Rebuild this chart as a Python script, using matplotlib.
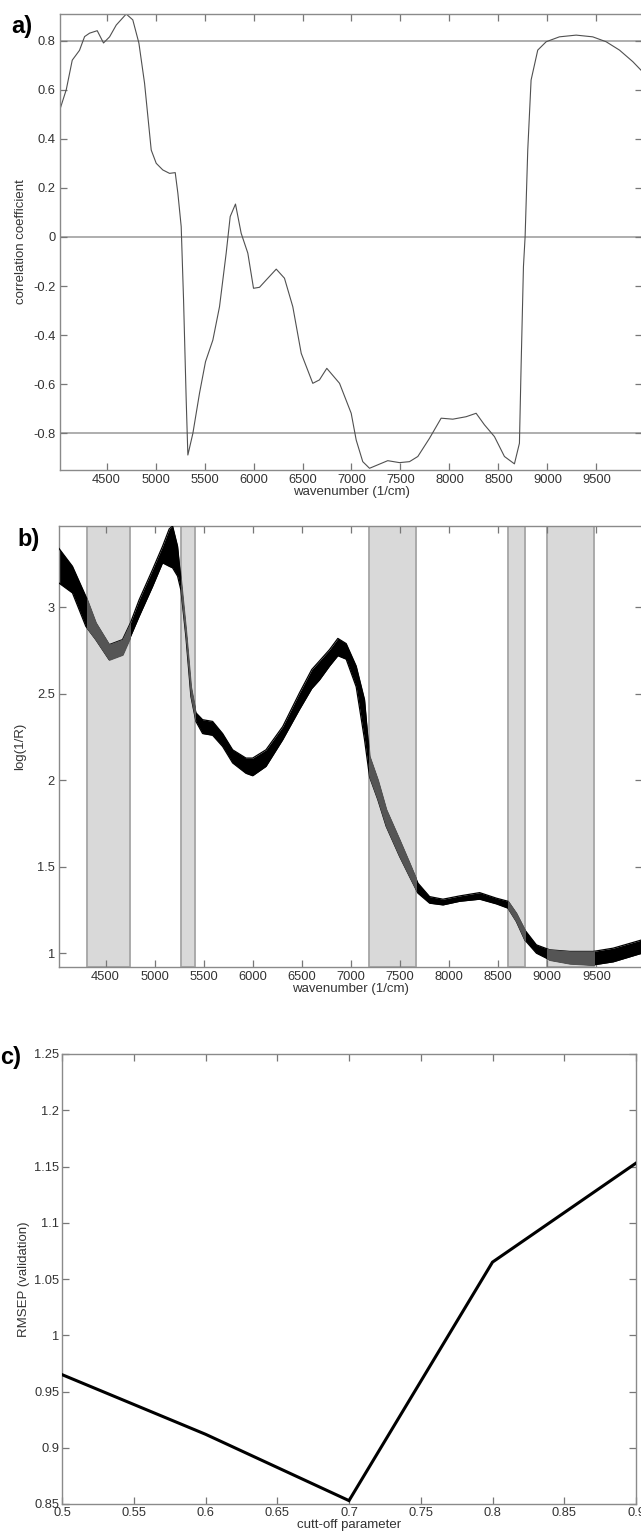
import numpy as np
import matplotlib.pyplot as plt
from matplotlib.patches import Rectangle

plt.rcParams['font.family'] = ['Liberation Sans', 'DejaVu Sans']

# a) correlation coefficient vs wavenumber
corr_wn = [4025, 4089, 4150, 4224, 4276, 4327, 4405, 4469, 4531, 4599, 4701, 4768,
           4830, 4888, 4956, 5007, 5074, 5143, 5201, 5228, 5262, 5286, 5313, 5330,
           5381, 5449, 5510, 5585, 5653, 5721, 5762, 5816, 5874, 5942, 6000, 6061,
           6130, 6232, 6316, 6401, 6487, 6605, 6673, 6748, 6878, 6997, 7048, 7115,
           7184, 7268, 7370, 7490, 7592, 7677, 7796, 7915, 8034, 8170, 8272, 8357,
           8459, 8561, 8663, 8714, 8731, 8755, 8772, 8799, 8833, 8901, 8987, 9122,
           9293, 9462, 9599, 9735, 9871, 9965]
corr_r = [0.52, 0.60, 0.72, 0.76, 0.816, 0.83, 0.84, 0.79, 0.815, 0.863, 0.908, 0.884,
          0.79, 0.626, 0.354, 0.30, 0.273, 0.259, 0.262, 0.178, 0.042, -0.256, -0.664, -0.888,
          -0.80, -0.636, -0.508, -0.42, -0.284, -0.066, 0.083, 0.134, 0.015, -0.066, -0.209, -0.205,
          -0.175, -0.131, -0.168, -0.284, -0.474, -0.596, -0.582, -0.535, -0.596, -0.718, -0.827, -0.915,
          -0.942, -0.928, -0.911, -0.919, -0.915, -0.894, -0.82, -0.738, -0.742, -0.732, -0.718, -0.765,
          -0.813, -0.894, -0.924, -0.84, -0.528, -0.121, 0.001, 0.354, 0.639, 0.761, 0.795, 0.815,
          0.822, 0.815, 0.795, 0.761, 0.714, 0.675]
cutoff_lines = [0.8, 0.0, -0.8]

# b) spectra band (upper / lower envelope of all spectra)
spec_wn = [4025, 4162, 4298, 4400, 4536, 4672, 4753, 4842, 4978, 5080, 5148, 5182,
           5233, 5267, 5318, 5369, 5420, 5488, 5590, 5692, 5794, 5930, 5998, 6134,
           6304, 6474, 6600, 6679, 6781, 6866, 6951, 7053, 7138, 7189, 7274, 7359,
           7495, 7597, 7682, 7801, 7937, 8107, 8311, 8481, 8600, 8685, 8770, 8889,
           9026, 9230, 9468, 9672, 9965]
spec_hi = [3.34, 3.237, 3.064, 2.91, 2.784, 2.813, 2.91, 3.044, 3.218, 3.353, 3.453, 3.47,
           3.353, 3.16, 2.87, 2.54, 2.39, 2.35, 2.34, 2.27, 2.176, 2.128, 2.128, 2.176,
           2.31, 2.504, 2.64, 2.69, 2.755, 2.82, 2.79, 2.66, 2.466, 2.138, 2.0, 1.83,
           1.655, 1.52, 1.405, 1.327, 1.312, 1.331, 1.35, 1.318, 1.30, 1.23, 1.135, 1.048,
           1.019, 1.01, 1.01, 1.029, 1.077]
spec_lo = [3.14, 3.083, 2.89, 2.813, 2.697, 2.726, 2.83, 2.948, 3.12, 3.257, 3.237, 3.228,
           3.18, 3.10, 2.83, 2.485, 2.34, 2.27, 2.26, 2.195, 2.10, 2.04, 2.026, 2.08,
           2.234, 2.408, 2.53, 2.58, 2.66, 2.72, 2.70, 2.54, 2.234, 2.02, 1.887, 1.733,
           1.56, 1.443, 1.347, 1.289, 1.279, 1.30, 1.312, 1.285, 1.26, 1.183, 1.077, 1.0,
           0.961, 0.94, 0.932, 0.95, 1.0]
region_start = [4310, 5270, 7180, 8600, 9000]
region_end = [4750, 5410, 7660, 8770, 9480]

# c) RMSEP vs cut-off parameter
cutoff = [0.5, 0.6, 0.7, 0.8, 0.9]
rmsep = [0.965, 0.912, 0.853, 1.065, 1.153]

W, H = 641, 1539
fig = plt.figure(figsize=(W / 100, H / 100), dpi=100)


def make_axes(left, right, top, bottom):
    return fig.add_axes([left / W, 1 - bottom / H, (right - left) / W, (bottom - top) / H])


def style(ax):
    for s in ax.spines.values():
        s.set_color('#8a8a8a')
        s.set_linewidth(1.0)
    ax.tick_params(direction='in', length=5, width=0.9, color='#777777',
                   labelsize=9.3, labelcolor='#333333', top=True, right=True, pad=3)


def fmt(v):
    s = ('%.2f' % v).rstrip('0').rstrip('.')
    return '0' if s in ('-0', '') else s


wn_ticks = list(range(4500, 10000, 500))
lab_kw = dict(fontsize=9.5, color='#333333')

# ---- a)
ax1 = make_axes(60, 642, 14, 470)
for yv in cutoff_lines:
    ax1.axhline(yv, color='#a8a8a8', lw=1.3, zorder=1)
ax1.plot(corr_wn, corr_r, color='#505050', lw=0.8, zorder=2)
ax1.set_xlim(4025, 9965)
ax1.set_ylim(-0.949, 0.908)
ax1.set_xticks(wn_ticks)
yt = np.round(np.arange(-0.8, 0.81, 0.2), 1)
ax1.set_yticks(yt)
ax1.set_yticklabels([fmt(v) for v in yt])
style(ax1)
ax1.set_xlabel('wavenumber (1/cm)', labelpad=0, **lab_kw)
ax1.set_ylabel('correlation coefficient', labelpad=5, **lab_kw)

# ---- b)
ax2 = make_axes(59, 642, 526, 967)
for a, b in zip(region_start, region_end):
    ax2.axvspan(a, b, facecolor='#d9d9d9', edgecolor='#a5a5a5', lw=1.3, zorder=1)
ax2.fill_between(spec_wn, spec_lo, spec_hi, color='black', lw=0, zorder=2)
ax2.plot(spec_wn, spec_hi, color='black', lw=0.9, zorder=3)
ax2.plot(spec_wn, spec_lo, color='black', lw=0.9, zorder=3)
for a, b in zip(region_start, region_end):
    clip = Rectangle((a, 0), b - a, 5, transform=ax2.transData)
    band = ax2.fill_between(spec_wn, spec_lo, spec_hi, color='#555555', lw=0.9,
                            edgecolor='#555555', zorder=4)
    band.set_clip_path(clip)
ax2.set_xlim(4025, 9965)
ax2.set_ylim(0.92, 3.47)
ax2.set_xticks(wn_ticks)
ax2.set_yticks([1, 1.5, 2, 2.5, 3])
ax2.set_yticklabels(['1', '1.5', '2', '2.5', '3'])
style(ax2)
ax2.set_xlabel('wavenumber (1/cm)', labelpad=0, **lab_kw)
ax2.set_ylabel('log(1/R)', labelpad=8, **lab_kw)

# ---- c)
ax3 = make_axes(62, 636, 1054, 1504)
ax3.plot(cutoff, rmsep, color='black', lw=2.2, solid_joinstyle='miter', zorder=3)
ax3.set_xlim(0.5, 0.9)
ax3.set_ylim(0.85, 1.25)
xt = np.round(np.arange(0.5, 0.901, 0.05), 2)
ax3.set_xticks(xt)
ax3.set_xticklabels([fmt(v) for v in xt])
yt3 = np.round(np.arange(0.85, 1.251, 0.05), 2)
ax3.set_yticks(yt3)
ax3.set_yticklabels([fmt(v) for v in yt3])
style(ax3)
ax3.tick_params(pad=2)
ax3.set_xlabel('cutt-off parameter', labelpad=0, **lab_kw)
ax3.set_ylabel('RMSEP (validation)', labelpad=3, **lab_kw)

# panel letters
fig.text(11 / W, 1 - 33 / H, 'a)', fontsize=17, fontweight='bold')
fig.text(17 / W, 1 - 546 / H, 'b)', fontsize=17, fontweight='bold')
fig.text(0 / W, 1 - 1064 / H, 'c)', fontsize=17, fontweight='bold')

fig.savefig('out.png', dpi=100, facecolor='white')
